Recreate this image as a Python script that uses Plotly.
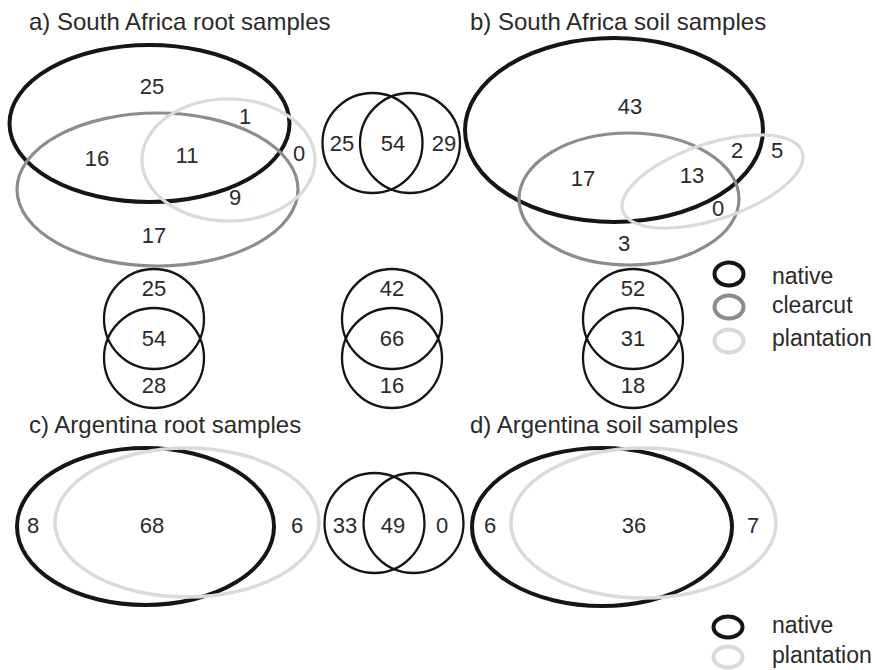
import math
import plotly.graph_objects as go

# ---------------- data (counts) ----------------
# 3-way Venn regions: native only, native&clearcut, all three, native&plantation,
# clearcut only, clearcut&plantation, plantation only
sa_root_counts = [25, 16, 11, 1, 17, 9, 0]
sa_soil_counts = [43, 17, 13, 2, 3, 0, 5]
# 2-way Venn regions: native only, shared, plantation only
arg_root_counts = [8, 68, 6]
arg_soil_counts = [6, 36, 7]
# small pairwise comparisons
pair_top = [25, 54, 29]
pair_vertical_1 = [25, 54, 28]
pair_vertical_2 = [42, 66, 16]
pair_vertical_3 = [52, 31, 18]
pair_argentina = [33, 49, 0]

panel_titles = ["a) South Africa root samples", "b) South Africa soil samples",
                "c) Argentina root samples", "d) Argentina soil samples"]
legend_3 = ["native", "clearcut", "plantation"]
legend_2 = ["native", "plantation"]

# ---------------- styles / layout positions ----------------
C_NAT = "#151515"
C_CLR = "#8c8c8c"
C_PLA = "#dadada"
C_TXT = "#2a2a2a"
FONT = "Liberation Sans, Arial, sans-serif"

W, H = 875, 670

shapes = []


def ellipse(cx, cy, rx, ry, color, width):
    shapes.append(dict(type="circle", xref="x", yref="y",
                       x0=cx - rx, x1=cx + rx, y0=cy - ry, y1=cy + ry,
                       line=dict(color=color, width=width)))


def rot_ellipse(cx, cy, a, b, ang_deg, color, width, n=120):
    th = math.radians(ang_deg)
    pts = []
    for i in range(n):
        t = 2 * math.pi * i / n
        x = cx + a * math.cos(th) * math.cos(t) - b * math.sin(th) * math.sin(t)
        y = cy - (a * math.sin(th) * math.cos(t) + b * math.cos(th) * math.sin(t))
        pts.append(f"{x:.2f},{y:.2f}")
    path = "M " + " L ".join(pts) + " Z"
    shapes.append(dict(type="path", xref="x", yref="y", path=path,
                       line=dict(color=color, width=width)))


# panel a
ellipse(149.5, 123.5, 140, 78.5, C_NAT, 4)
ellipse(157.5, 189.5, 140.5, 76.5, C_CLR, 3.2)
ellipse(228.5, 160, 86.5, 61, C_PLA, 3.2)
# panel b
ellipse(614, 130, 149, 92, C_NAT, 4)
ellipse(629, 199, 110, 66, C_CLR, 3.2)
rot_ellipse(712.5, 181.5, 94.4, 37.9, 18.2, C_PLA, 3.2)
# panel c
ellipse(145.5, 526.5, 128.5, 78.5, C_NAT, 4)
ellipse(187, 522.5, 132, 74.5, C_PLA, 3.5)
# panel d
ellipse(602, 527, 130, 79, C_NAT, 4)
ellipse(643.5, 523, 132.5, 75, C_PLA, 3.5)

# small circle pairs
SR = 50
ellipse(372.5, 143, SR, SR, C_NAT, 2.3)
ellipse(410, 143, SR, SR, C_NAT, 2.3)
for cx in (154, 392, 633):
    ellipse(cx, 319, SR, SR, C_NAT, 2.3)
    ellipse(cx, 358, SR, SR, C_NAT, 2.3)
ellipse(374.5, 523, SR, SR, C_NAT, 2.3)
ellipse(413.5, 523, SR, SR, C_NAT, 2.3)

# legend symbols
leg3_y = [274, 307, 341]
leg3_col = [C_NAT, C_CLR, C_PLA]
for y, c in zip(leg3_y, leg3_col):
    ellipse(729, y, 14.5, 11.5, c, 4)
leg2_y = [627, 657]
leg2_col = [C_NAT, C_PLA]
for y, c in zip(leg2_y, leg2_col):
    ellipse(728, y, 14.5, 10.5, c, 4)

# label positions for each count list (same order as the lists)
pos_sa_root = [(152, 88), (97, 160), (187, 157), (245, 118), (154, 237), (235, 199), (299, 155)]
pos_sa_soil = [(630, 108), (583, 180), (692, 177), (737, 152), (624, 245), (718, 210), (777, 152)]
pos_arg_root = [(33, 527), (152, 527), (297, 527)]
pos_arg_soil = [(490, 527), (634, 527), (753, 527)]
pos_pair_top = [(342, 145), (393, 145), (444, 145)]
pos_pv1 = [(154, 290), (154, 340), (154, 387)]
pos_pv2 = [(392, 290), (392, 340), (392, 387)]
pos_pv3 = [(633, 290), (633, 340), (633, 387)]
pos_pair_arg = [(345, 527), (393, 527), (442, 527)]

groups = [(sa_root_counts, pos_sa_root), (sa_soil_counts, pos_sa_soil),
          (arg_root_counts, pos_arg_root), (arg_soil_counts, pos_arg_soil),
          (pair_top, pos_pair_top), (pair_vertical_1, pos_pv1),
          (pair_vertical_2, pos_pv2), (pair_vertical_3, pos_pv3),
          (pair_argentina, pos_pair_arg)]

xs, ys, ts = [], [], []
for vals, pos in groups:
    for v, (x, y) in zip(vals, pos):
        xs.append(x)
        ys.append(y)
        ts.append(str(v))

fig = go.Figure()
fig.add_trace(go.Scatter(x=xs, y=ys, text=ts, mode="text",
                         textposition="middle center",
                         textfont=dict(family=FONT, size=22, color=C_TXT),
                         hoverinfo="skip", showlegend=False))

annotations = []
title_pos = [(27, 21), (468, 21), (27, 424), (468, 424)]
for t, (x, y) in zip(panel_titles, title_pos):
    annotations.append(dict(x=x, y=y, xref="x", yref="y", text=t, showarrow=False,
                            xanchor="left", yanchor="middle",
                            font=dict(family=FONT, size=24, color=C_TXT)))
for t, y in zip(legend_3, [276, 305, 338]):
    annotations.append(dict(x=770, y=y, xref="x", yref="y", text=t, showarrow=False,
                            xanchor="left", yanchor="middle",
                            font=dict(family=FONT, size=23, color=C_TXT)))
for t, y in zip(legend_2, [625, 655]):
    annotations.append(dict(x=770, y=y, xref="x", yref="y", text=t, showarrow=False,
                            xanchor="left", yanchor="middle",
                            font=dict(family=FONT, size=23, color=C_TXT)))

fig.update_layout(
    width=W, height=H,
    margin=dict(l=0, r=0, t=0, b=0),
    paper_bgcolor="white", plot_bgcolor="white",
    xaxis=dict(range=[0, W], visible=False, fixedrange=True),
    yaxis=dict(range=[H, 0], visible=False, fixedrange=True),
    shapes=shapes, annotations=annotations,
    showlegend=False,
)

fig.write_html("out.html", config={"displayModeBar": False},
               post_script="document.body.style.margin='0px';document.body.style.overflow='hidden';")
